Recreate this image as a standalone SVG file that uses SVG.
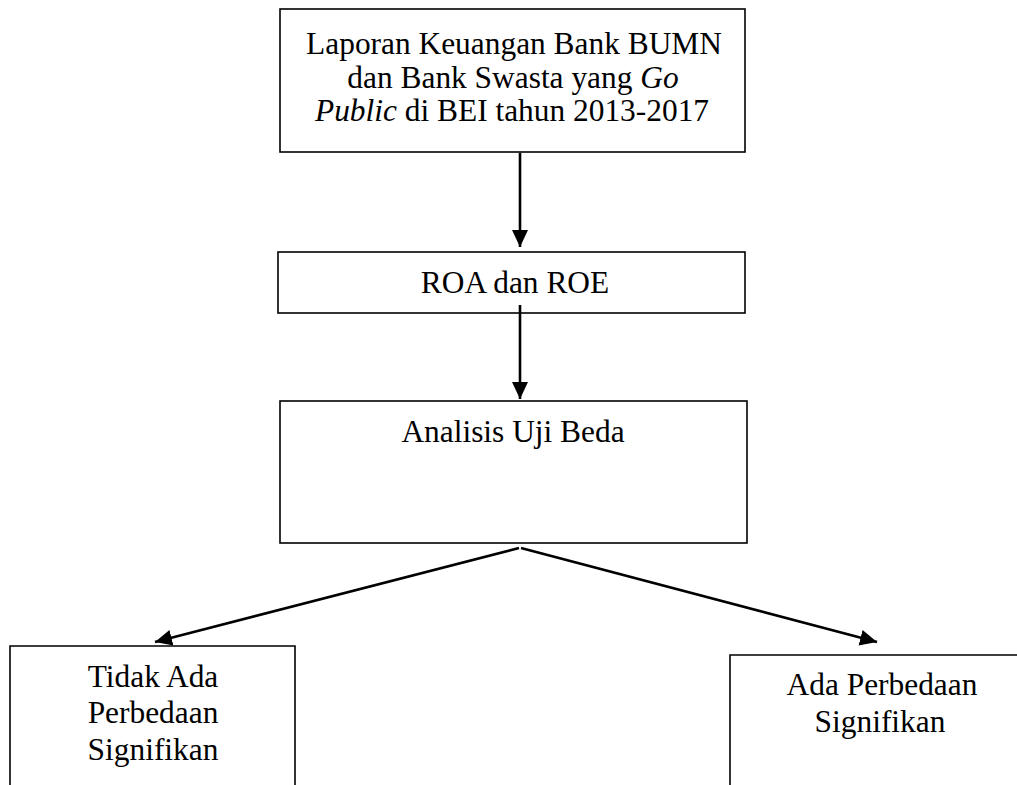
<svg xmlns="http://www.w3.org/2000/svg" width="1017" height="785" viewBox="0 0 1017 785">
<defs>
<marker id="ah" markerUnits="userSpaceOnUse" markerWidth="18" markerHeight="18" viewBox="0 0 18 18" refX="17" refY="9" orient="auto">
<path d="M0,1 L17,9 L0,17 Z" fill="#000"/>
</marker>
</defs>
<style>
.box{fill:#fff;stroke:#000;stroke-width:1.6}
.t{font-family:"Liberation Serif","Times New Roman",serif;font-size:31.4px;fill:#000;text-anchor:middle}
.c{stroke:#000;stroke-width:2.6;fill:none}
</style>
<rect width="1017" height="785" fill="#fff"/>
<g id="n1">
<rect class="box" x="280" y="9" width="465" height="143"/>
<text class="t" x="514" y="54">Laporan Keuangan Bank BUMN</text>
<text class="t" x="513" y="87.5">dan Bank Swasta yang <tspan font-style="italic">Go</tspan></text>
<text class="t" x="512" y="121"><tspan font-style="italic">Public</tspan> di BEI tahun 2013-2017</text>
</g>
<g id="n2">
<rect class="box" x="278" y="252" width="467" height="61"/>
<text class="t" x="515" y="293">ROA dan ROE</text>
</g>
<g id="n3">
<rect class="box" x="280" y="401" width="467" height="142"/>
<text class="t" x="513" y="442">Analisis Uji Beda</text>
</g>
<g id="n4">
<path class="box" d="M10,790 V646 H295 V790"/>
<text class="t" x="153" y="687">Tidak Ada</text>
<text class="t" x="153" y="723">Perbedaan</text>
<text class="t" x="153" y="760">Signifikan</text>
</g>
<g id="n5">
<path class="box" d="M730,790 V655 H1020"/>
<text class="t" x="882" y="695">Ada Perbedaan</text>
<text class="t" x="880" y="732">Signifikan</text>
</g>
<g id="connectors">
<line class="c" x1="520" y1="153" x2="520" y2="247" marker-end="url(#ah)"/>
<line class="c" x1="520" y1="305" x2="520" y2="399" marker-end="url(#ah)"/>
<line class="c" x1="519" y1="548" x2="155" y2="642" marker-end="url(#ah)"/>
<line class="c" x1="521" y1="548" x2="877" y2="642" marker-end="url(#ah)"/>
</g>
</svg>
